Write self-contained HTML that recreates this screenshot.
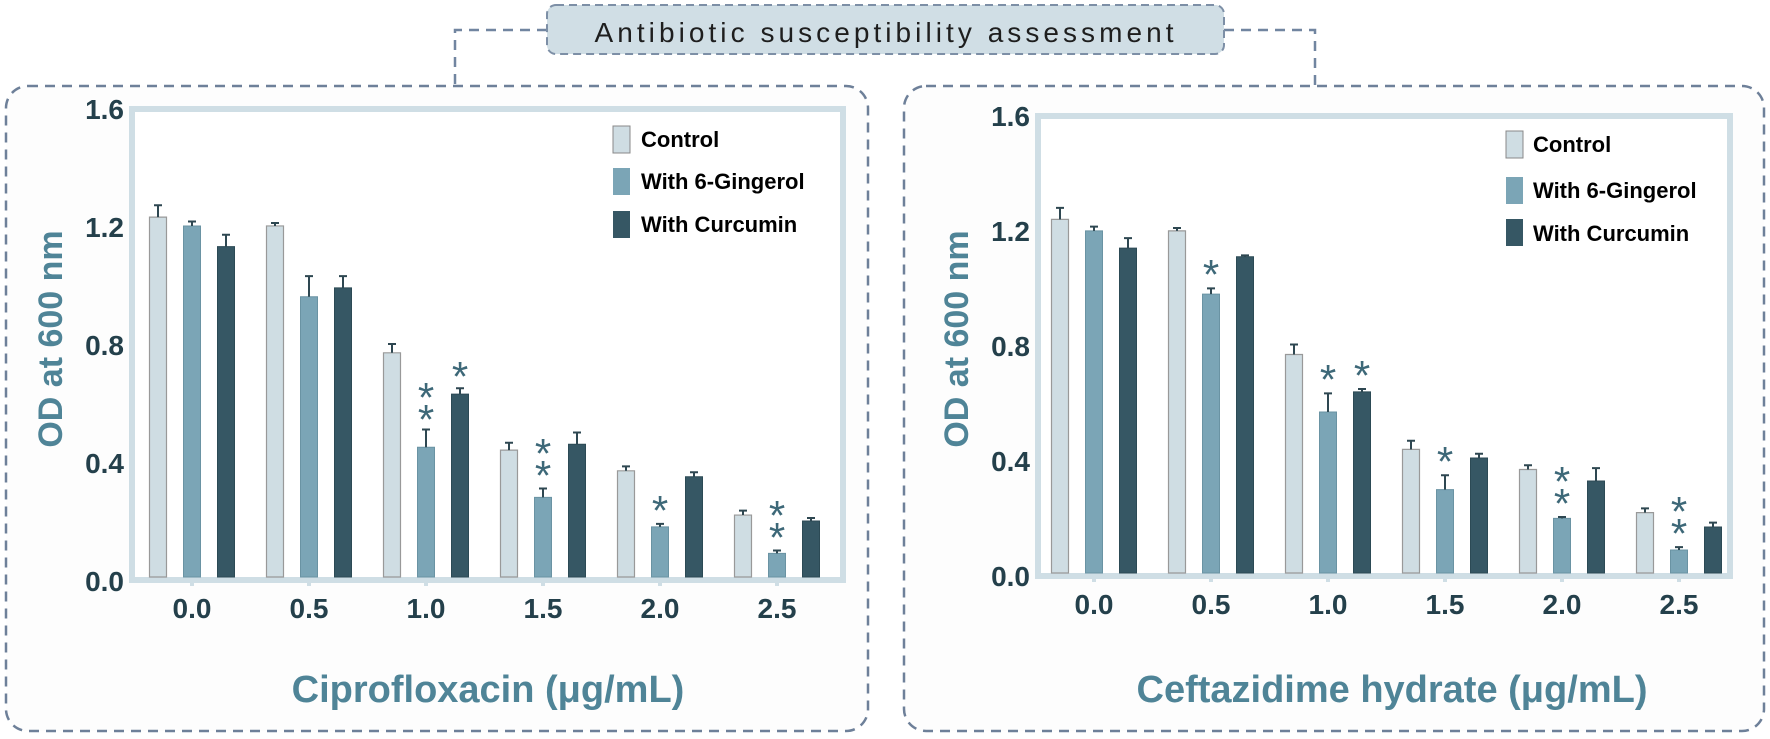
<!DOCTYPE html>
<html><head><meta charset="utf-8"><style>
html,body{margin:0;padding:0;background:#fff;}
svg{display:block;}
text{font-family:"Liberation Sans",sans-serif;}
</style></head><body>
<svg width="1770" height="739" viewBox="0 0 1770 739" xmlns="http://www.w3.org/2000/svg">
<rect width="1770" height="739" fill="#fff"/>
<path d="M547 30 H455 V86 M1224 30 H1315 V86" fill="none" stroke="#7185a0" stroke-width="2.5" stroke-dasharray="10 7"/>
<rect x="6" y="86" width="862" height="645" rx="22" fill="#fdfdfd" stroke="#6e8099" stroke-width="2.5" stroke-dasharray="10 7"/>
<rect x="904" y="86" width="860" height="645" rx="22" fill="#fdfdfd" stroke="#6e8099" stroke-width="2.5" stroke-dasharray="10 7"/>
<rect x="547" y="5" width="677" height="49" rx="9" fill="#d0dee5" stroke="#7d8fa6" stroke-width="2" stroke-dasharray="8 5"/>
<text x="884" y="42" font-size="28" text-anchor="middle" textLength="579" fill="#1e1e1e">Antibiotic susceptibility assessment</text>

<!-- LEFT CHART -->
<rect x="132" y="109" width="711" height="471" fill="#fff" stroke="#cfdee5" stroke-width="6"/>
<g fill="#24404b" font-weight="bold" font-size="28" text-anchor="end">
<text x="124" y="119">1.6</text><text x="124" y="237">1.2</text><text x="124" y="355">0.8</text><text x="124" y="473">0.4</text><text x="124" y="591">0.0</text>
</g>
<g fill="#24404b" font-weight="bold" font-size="28" text-anchor="middle">
<text x="192" y="618">0.0</text><text x="309" y="618">0.5</text><text x="426" y="618">1.0</text><text x="543" y="618">1.5</text><text x="660" y="618">2.0</text><text x="777" y="618">2.5</text>
</g>
<g stroke="#cfdee5" stroke-width="4"><path d="M192 580v6M309 580v6M426 580v6M543 580v6M660 580v6M777 580v6"/></g>
<text transform="translate(62,339) rotate(-90)" text-anchor="middle" font-size="34" font-weight="bold" fill="#4f8497">OD at 600 nm</text>
<text x="488" y="702" text-anchor="middle" font-size="38" font-weight="bold" fill="#4f8497">Ciprofloxacin (μg/mL)</text>
<g transform="translate(0,577) scale(1,-295)">
<g fill="#cfdde3" stroke="#999" stroke-width="1.2">
<rect x="149.5" y="0" width="17" height="1.22" vector-effect="non-scaling-stroke"/>
<rect x="266.5" y="0" width="17" height="1.19" vector-effect="non-scaling-stroke"/>
<rect x="383.5" y="0" width="17" height="0.76" vector-effect="non-scaling-stroke"/>
<rect x="500.5" y="0" width="17" height="0.43" vector-effect="non-scaling-stroke"/>
<rect x="617.5" y="0" width="17" height="0.36" vector-effect="non-scaling-stroke"/>
<rect x="734.5" y="0" width="17" height="0.21" vector-effect="non-scaling-stroke"/>
</g>
<g fill="#7ba5b6" stroke="#6a93a3" stroke-width="1">
<rect x="183.5" y="0" width="17" height="1.19" vector-effect="non-scaling-stroke"/>
<rect x="300.5" y="0" width="17" height="0.95" vector-effect="non-scaling-stroke"/>
<rect x="417.5" y="0" width="17" height="0.44" vector-effect="non-scaling-stroke"/>
<rect x="534.5" y="0" width="17" height="0.27" vector-effect="non-scaling-stroke"/>
<rect x="651.5" y="0" width="17" height="0.17" vector-effect="non-scaling-stroke"/>
<rect x="768.5" y="0" width="17" height="0.08" vector-effect="non-scaling-stroke"/>
</g>
<g fill="#365764" stroke="#2c4a55" stroke-width="1">
<rect x="217.5" y="0" width="17" height="1.12" vector-effect="non-scaling-stroke"/>
<rect x="334.5" y="0" width="17" height="0.98" vector-effect="non-scaling-stroke"/>
<rect x="451.5" y="0" width="17" height="0.62" vector-effect="non-scaling-stroke"/>
<rect x="568.5" y="0" width="17" height="0.45" vector-effect="non-scaling-stroke"/>
<rect x="685.5" y="0" width="17" height="0.34" vector-effect="non-scaling-stroke"/>
<rect x="802.5" y="0" width="17" height="0.19" vector-effect="non-scaling-stroke"/>
</g>
<path vector-effect="non-scaling-stroke" stroke="#2e4751" stroke-width="2" fill="none" d="
M158 1.22V1.26M154 1.26H162
M192 1.19V1.205M188 1.205H196
M226 1.12V1.16M222 1.16H230
M275 1.19V1.20M271 1.20H279
M309 0.95V1.02M305 1.02H313
M343 0.98V1.02M339 1.02H347
M392 0.76V0.79M388 0.79H396
M426 0.44V0.50M422 0.50H430
M460 0.62V0.64M456 0.64H464
M509 0.43V0.455M505 0.455H513
M543 0.27V0.30M539 0.30H547
M577 0.45V0.49M573 0.49H581
M626 0.36V0.375M622 0.375H630
M660 0.17V0.18M656 0.18H664
M694 0.34V0.355M690 0.355H698
M743 0.21V0.225M739 0.225H747
M777 0.08V0.09M773 0.09H781
M811 0.19V0.20M807 0.20H815"/>
</g>
<g fill="#3d6878" font-size="42" text-anchor="middle">
<text x="426" y="434">*</text><text x="426" y="412">*</text>
<text x="460" y="391">*</text>
<text x="543" y="490">*</text><text x="543" y="468">*</text>
<text x="660" y="525">*</text>
<text x="777" y="552">*</text><text x="777" y="530">*</text>
</g>
<g>
<rect x="613" y="126" width="17" height="27" fill="#cfdde3" stroke="#888" stroke-width="1"/>
<rect x="613" y="168" width="17" height="27" fill="#7ba5b6"/>
<rect x="613" y="211" width="17" height="27" fill="#365764"/>
<g font-size="22" font-weight="bold" fill="#000">
<text x="641" y="147">Control</text><text x="641" y="189">With 6-Gingerol</text><text x="641" y="232">With Curcumin</text>
</g>
</g>

<!-- RIGHT CHART -->
<rect x="1038" y="116" width="692" height="460" fill="#fff" stroke="#cfdee5" stroke-width="6"/>
<g fill="#24404b" font-weight="bold" font-size="28" text-anchor="end">
<text x="1030" y="126">1.6</text><text x="1030" y="241">1.2</text><text x="1030" y="356">0.8</text><text x="1030" y="471">0.4</text><text x="1030" y="586">0.0</text>
</g>
<g fill="#24404b" font-weight="bold" font-size="28" text-anchor="middle">
<text x="1094" y="614">0.0</text><text x="1211" y="614">0.5</text><text x="1328" y="614">1.0</text><text x="1445" y="614">1.5</text><text x="1562" y="614">2.0</text><text x="1679" y="614">2.5</text>
</g>
<g stroke="#cfdee5" stroke-width="4"><path d="M1094 576v6M1211 576v6M1328 576v6M1445 576v6M1562 576v6M1679 576v6"/></g>
<text transform="translate(968,339) rotate(-90)" text-anchor="middle" font-size="34" font-weight="bold" fill="#4f8497">OD at 600 nm</text>
<text x="1392" y="702" text-anchor="middle" font-size="38" font-weight="bold" fill="#4f8497">Ceftazidime hydrate (μg/mL)</text>
<g transform="translate(0,573) scale(1,-287.5)">
<g fill="#cfdde3" stroke="#999" stroke-width="1.2">
<rect x="1051.5" y="0" width="17" height="1.23" vector-effect="non-scaling-stroke"/>
<rect x="1168.5" y="0" width="17" height="1.19" vector-effect="non-scaling-stroke"/>
<rect x="1285.5" y="0" width="17" height="0.76" vector-effect="non-scaling-stroke"/>
<rect x="1402.5" y="0" width="17" height="0.43" vector-effect="non-scaling-stroke"/>
<rect x="1519.5" y="0" width="17" height="0.36" vector-effect="non-scaling-stroke"/>
<rect x="1636.5" y="0" width="17" height="0.21" vector-effect="non-scaling-stroke"/>
</g>
<g fill="#7ba5b6" stroke="#6a93a3" stroke-width="1">
<rect x="1085.5" y="0" width="17" height="1.19" vector-effect="non-scaling-stroke"/>
<rect x="1202.5" y="0" width="17" height="0.97" vector-effect="non-scaling-stroke"/>
<rect x="1319.5" y="0" width="17" height="0.56" vector-effect="non-scaling-stroke"/>
<rect x="1436.5" y="0" width="17" height="0.29" vector-effect="non-scaling-stroke"/>
<rect x="1553.5" y="0" width="17" height="0.19" vector-effect="non-scaling-stroke"/>
<rect x="1670.5" y="0" width="17" height="0.08" vector-effect="non-scaling-stroke"/>
</g>
<g fill="#365764" stroke="#2c4a55" stroke-width="1">
<rect x="1119.5" y="0" width="17" height="1.13" vector-effect="non-scaling-stroke"/>
<rect x="1236.5" y="0" width="17" height="1.10" vector-effect="non-scaling-stroke"/>
<rect x="1353.5" y="0" width="17" height="0.63" vector-effect="non-scaling-stroke"/>
<rect x="1470.5" y="0" width="17" height="0.40" vector-effect="non-scaling-stroke"/>
<rect x="1587.5" y="0" width="17" height="0.32" vector-effect="non-scaling-stroke"/>
<rect x="1704.5" y="0" width="17" height="0.16" vector-effect="non-scaling-stroke"/>
</g>
<path vector-effect="non-scaling-stroke" stroke="#2e4751" stroke-width="2" fill="none" d="
M1060 1.23V1.27M1056 1.27H1064
M1094 1.19V1.205M1090 1.205H1098
M1128 1.13V1.165M1124 1.165H1132
M1177 1.19V1.20M1173 1.20H1181
M1211 0.97V0.99M1207 0.99H1215
M1245 1.10V1.105M1241 1.105H1249
M1294 0.76V0.795M1290 0.795H1298
M1328 0.56V0.625M1324 0.625H1332
M1362 0.63V0.64M1358 0.64H1366
M1411 0.43V0.46M1407 0.46H1415
M1445 0.29V0.34M1441 0.34H1449
M1479 0.40V0.415M1475 0.415H1483
M1528 0.36V0.375M1524 0.375H1532
M1562 0.19V0.195M1558 0.195H1566
M1596 0.32V0.365M1592 0.365H1600
M1645 0.21V0.225M1641 0.225H1649
M1679 0.08V0.09M1675 0.09H1683
M1713 0.16V0.175M1709 0.175H1717"/>
</g>
<g fill="#3d6878" font-size="42" text-anchor="middle">
<text x="1211" y="289">*</text>
<text x="1328" y="394">*</text>
<text x="1362" y="390">*</text>
<text x="1445" y="476">*</text>
<text x="1562" y="518">*</text><text x="1562" y="496">*</text>
<text x="1679" y="548">*</text><text x="1679" y="526">*</text>
</g>
<g>
<rect x="1506" y="131" width="17" height="27" fill="#cfdde3" stroke="#888" stroke-width="1"/>
<rect x="1506" y="177" width="17" height="27" fill="#7ba5b6"/>
<rect x="1506" y="219" width="17" height="27" fill="#365764"/>
<g font-size="22" font-weight="bold" fill="#000">
<text x="1533" y="152">Control</text><text x="1533" y="198">With 6-Gingerol</text><text x="1533" y="241">With Curcumin</text>
</g>
</g>
</svg>
</body></html>
